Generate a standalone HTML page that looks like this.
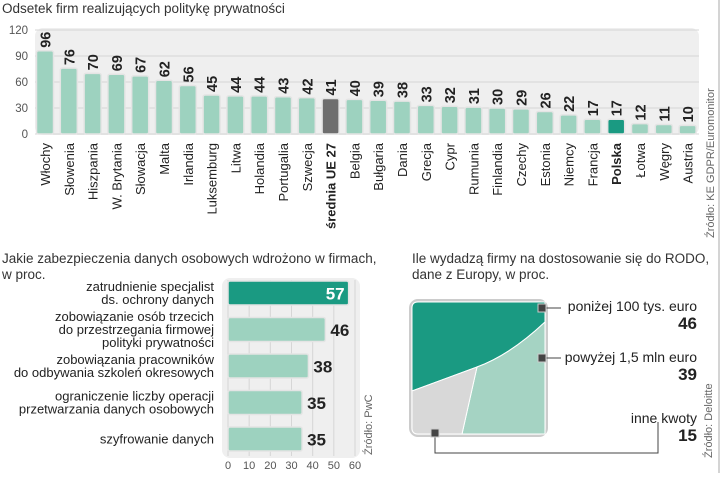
<!DOCTYPE html>
<html><head><meta charset="utf-8">
<style>
body{margin:0;background:#fff;width:721px;height:473px;overflow:hidden;font-family:"Liberation Sans",sans-serif;}
svg text{font-family:"Liberation Sans","Noto Sans CJK SC",sans-serif;}
</style></head>
<body>
<svg id="c" width="721" height="473" viewBox="0 0 721 473">
<text x="2" y="13" font-size="13.5" fill="#333">Odsetek firm realizujących politykę prywatności</text>
<line x1="719" y1="0" x2="719" y2="473" stroke="#aaa"/>
<rect x="35" y="28" width="664" height="107" rx="8" fill="#efefef"/>
<g id="topg"></g>
<text transform="translate(714,238) rotate(-90)" font-size="11" fill="#666">Źródło: KE GDPR/Euromonitor</text>

<text x="2" y="263" font-size="13.5" fill="#333">Jakie zabezpieczenia danych osobowych wdrożono w firmach,</text>
<text x="2" y="279" font-size="13.5" fill="#333">w proc.</text>
<rect x="222" y="278" width="138" height="180" rx="8" fill="#efefef"/>
<g id="hbg"></g>
<text transform="translate(372,455) rotate(-90)" font-size="11" fill="#666">Źródło: PwC</text>

<text x="412" y="263" font-size="13.5" fill="#333">Ile wydadzą firmy na dostosowanie się do RODO,</text>
<text x="412" y="279" font-size="13.5" fill="#333">dane z Europy, w proc.</text>
<g>
<rect x="410" y="300" width="137" height="136" rx="8" fill="#ddd" stroke="#ccc" stroke-width="2"/>
<path d="M412,391 L412,308 Q412,302 418,302 L545,302 L545,322 Q510,355 477,367 Z" fill="#1a9a82" stroke="#fff" stroke-width="1"/>
<path d="M545,322 Q510,355 477,367 L462,434 L545,434 Z" fill="#a5d3c3" stroke="#fff" stroke-width="1"/>
<path d="M412,391 L477,367 L462,434 L418,434 Q412,434 412,428 Z" fill="#d8d8d8" stroke="#fff" stroke-width="1"/>
</g>
<g id="plg"></g>
<text transform="translate(712,458) rotate(-90)" font-size="11" fill="#666">Źródło: Deloitte</text>
</svg>
<script>
const countries=["Włochy","Słowenia","Hiszpania","W. Brytania","Słowacja","Malta","Irlandia","Luksemburg","Litwa","Holandia","Portugalia","Szwecja","średnia UE 27","Belgia","Bułgaria","Dania","Grecja","Cypr","Rumunia","Finlandia","Czechy","Estonia","Niemcy","Francja","Polska","Łotwa","Węgry","Austria"];
const values=[96,76,70,69,67,62,56,45,44,44,43,42,41,40,39,38,33,32,31,30,29,26,22,17,17,12,11,10];
const yTicks=[0,30,60,90,120];
const hbLabels=[["zatrudnienie specjalist","ds. ochrony danych"],["zobowiązanie osób trzecich","do przestrzegania firmowej","polityki prywatności"],["zobowiązania pracowników","do odbywania szkoleń okresowych"],["ograniczenie liczby operacji","przetwarzania danych osobowych"],["szyfrowanie danych"]];
const hbValues=[57,46,38,35,35];
const xTicks=[0,10,20,30,40,50,60];
const pieLabels=["poniżej 100 tys. euro","powyżej 1,5 mln euro","inne kwoty"];
const pieValues=[46,39,15];

const NS="http://www.w3.org/2000/svg";
function mk(t,a,p){const e=document.createElementNS(NS,t);for(const k in a)e.setAttribute(k,a[k]);p.appendChild(e);return e;}
const topG=document.getElementById('topg');
const yS=v=>134-v*(104/120);
const xS=i=>45+i*23.8;
yTicks.forEach(t=>{
  const l=mk('line',{x1:35,x2:699,y1:yS(t),y2:yS(t),stroke:'#d6d6d6'},topG);
  
  
  const tx=mk('text',{x:28,y:yS(t)+4,'font-size':11.5,fill:'#555','text-anchor':'end'},topG);
  tx.textContent=t;
  
  
});
values.forEach((v,i)=>{
  const c=countries[i];
  const fill=c==="średnia UE 27"?"#6e6e6e":(c==="Polska"?"#1a9a82":"#9dd2bf");
  const r=mk('rect',{x:xS(i)-8.5,y:yS(v),width:17,height:134-yS(v),rx:2,fill:fill,stroke:'#e4e4e4','stroke-width':1.5},topG);
  
  
  const vt=mk('text',{transform:`translate(${xS(i)+5.5},${yS(v)-3}) rotate(-90)`,'font-size':14.5,'font-weight':'bold',fill:'#222'},topG);
  vt.textContent=v;
  
  
  const bold=(c==="średnia UE 27"||c==="Polska");
  const ct=mk('text',{transform:`translate(${xS(i)+5},143) rotate(-90)`,'font-size':13,'font-weight':bold?'bold':'normal',fill:'#222','text-anchor':'end'},topG);
  ct.textContent=c;
  
  
});
const hbG=document.getElementById('hbg');
const hx=v=>228+v*(127/60);
const hy=i=>281+i*36.5;
xTicks.forEach(t=>{
  const l=mk('line',{x1:hx(t),x2:hx(t),y1:280,y2:456,stroke:'#d6d6d6'},hbG);
  
  
  const tx=mk('text',{x:hx(t),y:469,'font-size':11,fill:'#555','text-anchor':'middle'},hbG);
  tx.textContent=t;
  
  
});
hbValues.forEach((v,i)=>{
  const first=i===0;
  const r=mk('rect',{x:hx(0),y:hy(i),width:hx(v)-hx(0),height:24,rx:2,fill:first?'#1a9a82':'#9dd2bf',stroke:'#e4e4e4','stroke-width':1.5},hbG);
  
  
  const vt=mk('text',{x:first?hx(v)-4:hx(v)+5,y:hy(i)+18.5,'font-size':17,'font-weight':'bold',fill:first?'#fff':'#222','text-anchor':first?'end':'start'},hbG);
  vt.textContent=v;
  
  
  const ls=hbLabels[i];const cy=hy(i)+12;const st=cy-(ls.length-1)*6.5+4.5;
  ls.forEach((s,j)=>{
    const t=mk('text',{x:214,y:st+j*13,'font-size':13,fill:'#222','text-anchor':'end'},hbG);
    t.textContent=s;
    
    
  });
});
const pieG=document.getElementById('plg');
const ly=[306,357,418];
pieLabels.forEach((s,i)=>{
  const t=mk('text',{x:697,y:ly[i]+5,'font-size':14,fill:'#222','text-anchor':'end'},pieG);
  t.textContent=s;
  
  
  const v=mk('text',{x:697,y:ly[i]+23,'font-size':17,'font-weight':'bold',fill:'#222','text-anchor':'end'},pieG);
  v.textContent=pieValues[i];
  
  
});
mk('line',{x1:545,y1:308,x2:561,y2:308,stroke:'#444'},pieG);
mk('line',{x1:545,y1:358,x2:561,y2:358,stroke:'#444'},pieG);
mk('polyline',{points:'435,433 435,453 658,453 658,422',fill:'none',stroke:'#444'},pieG);
[[542,308],[542,358],[435,433]].forEach(p=>{
  const m=mk('rect',{x:p[0]-4,y:p[1]-4,width:8,height:8,fill:'#444',stroke:'#ccc'},pieG);
  
  
});
</script>
</body></html>
